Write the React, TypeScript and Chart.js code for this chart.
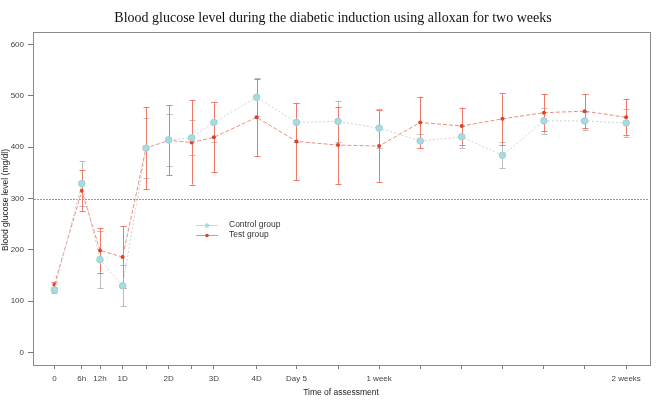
import React, { useEffect, useRef } from "react";
import { Chart, registerables } from "chart.js";

Chart.register(...registerables);

const chartTitle = "Blood glucose level during the diabetic induction using alloxan for two weeks";
const xAxisTitle = "Time of assessment";
const yAxisTitle = "Blood glucose level (mg/dl)";

// time of assessment positions (relative scale as plotted)
const timePos = [0, 0.667, 1.11, 1.66, 2.23, 2.78, 3.34, 3.88, 4.92, 5.89, 6.9, 7.9, 8.9, 9.91, 10.9, 11.91, 12.9, 13.91];
const timeLabels = ["0", "6h", "12h", "1D", "", "2D", "", "3D", "4D", "Day 5", "", "1 week", "", "", "", "", "", "2 weeks"];

const controlMean = [122, 329, 181, 130, 398, 414, 418, 448, 497, 448, 450, 437, 412, 420, 384, 451, 451, 447];
const controlErr = [5, 44, 56, 40, 58, 50, 34, 39, 37, 38, 40, 38, 13, 22, 25, 25, 18, 28];
const testMean = [132, 315, 199, 186, 398, 413, 409, 419, 458, 411, 404, 402, 448, 441, 455, 467, 470, 458];
const testErr = [6, 40, 43, 60, 80, 68, 82, 68, 75, 75, 75, 70, 50, 36, 50, 36, 33, 35];

const yTicks = [0, 100, 200, 300, 400, 500, 600];
const thresholdValue = 300;

const seriesNames = ["Control group", "Test group"];

const CONTROL_LINE = "#d2d2d2";
const CONTROL_POINT = "#a6dbe0";
const CONTROL_ERR = "#bcbcbc";
const TEST_LINE = "#ef8d7c";
const TEST_POINT = "#e0402a";
const TEST_ERR = "#f07a6a";
const THRESHOLD = "#30e030";

export default function App() {
  const ref = useRef<HTMLCanvasElement | null>(null);

  useEffect(() => {
    const canvas = ref.current;
    if (!canvas) return;

    const decor = {
      id: "decor",
      beforeDatasetsDraw(chart: any) {
        const ctx = chart.ctx;
        const xs = chart.scales.x;
        const ys = chart.scales.y;
        const area = chart.chartArea;
        ctx.save();
        // threshold line
        const ty = Math.round(ys.getPixelForValue(thresholdValue)) + 0.5;
        ctx.strokeStyle = THRESHOLD;
        ctx.lineWidth = 1;
        ctx.setLineDash([2, 1]);
        ctx.beginPath();
        ctx.moveTo(area.left + 1, ty);
        ctx.lineTo(area.right - 1, ty);
        ctx.stroke();
        ctx.setLineDash([]);
        // error bars
        const drawErr = (means: number[], errs: number[], color: string) => {
          ctx.strokeStyle = color;
          ctx.lineWidth = 1;
          means.forEach((m, i) => {
            const px = Math.round(xs.getPixelForValue(timePos[i])) + 0.5;
            const top = ys.getPixelForValue(m + errs[i]);
            const bot = ys.getPixelForValue(m - errs[i]);
            ctx.beginPath();
            ctx.moveTo(px, top);
            ctx.lineTo(px, bot);
            ctx.moveTo(px - 3, Math.round(top) + 0.5);
            ctx.lineTo(px + 3, Math.round(top) + 0.5);
            ctx.moveTo(px - 3, Math.round(bot) + 0.5);
            ctx.lineTo(px + 3, Math.round(bot) + 0.5);
            ctx.stroke();
          });
        };
        drawErr(controlMean, controlErr, CONTROL_ERR);
        drawErr(testMean, testErr, TEST_ERR);
        ctx.restore();
      },
      afterDraw(chart: any) {
        const ctx = chart.ctx;
        const area = chart.chartArea;
        ctx.save();
        // box
        ctx.strokeStyle = "#8a8a8a";
        ctx.lineWidth = 1;
        ctx.strokeRect(Math.round(area.left) + 0.5, Math.round(area.top) + 0.5, Math.round(area.right - area.left), Math.round(area.bottom - area.top));
        // title
        ctx.fillStyle = "#111";
        ctx.font = "14px 'Liberation Serif', 'Times New Roman', serif";
        ctx.textAlign = "center";
        ctx.textBaseline = "middle";
        ctx.fillText(chartTitle, 333, 18);
        // axis titles
        ctx.font = "8.5px 'Liberation Sans', Arial, sans-serif";
        ctx.fillStyle = "#222";
        ctx.fillText(xAxisTitle, 341, 393);
        ctx.save();
        ctx.translate(6, 200);
        ctx.rotate(-Math.PI / 2);
        ctx.fillText(yAxisTitle, 0, 0);
        ctx.restore();
        // legend
        const lx = 196;
        const items = [
          { name: seriesNames[0], line: CONTROL_LINE, pt: CONTROL_POINT, r: 2.2, y: 225 },
          { name: seriesNames[1], line: TEST_LINE, pt: TEST_POINT, r: 1.8, y: 235 },
        ];
        ctx.font = "8.5px 'Liberation Sans', Arial, sans-serif";
        items.forEach((it) => {
          ctx.strokeStyle = it.line;
          ctx.lineWidth = 1;
          ctx.beginPath();
          ctx.moveTo(lx, it.y + 0.5);
          ctx.lineTo(lx + 22, it.y + 0.5);
          ctx.stroke();
          ctx.fillStyle = it.pt;
          ctx.beginPath();
          ctx.arc(lx + 11, it.y + 0.5, it.r, 0, Math.PI * 2);
          ctx.fill();
          ctx.fillStyle = "#333";
          ctx.textAlign = "left";
          ctx.fillText(it.name, 229, it.y);
        });
        ctx.restore();
      },
    };

    const chart = new Chart(canvas, {
      type: "line",
      data: {
        datasets: [
          {
            label: seriesNames[0],
            data: timePos.map((x, i) => ({ x, y: controlMean[i] })),
            borderColor: CONTROL_LINE,
            borderWidth: 1,
            borderDash: [2, 2],
            pointRadius: 3.3,
            pointBackgroundColor: CONTROL_POINT,
            pointBorderColor: "#9fcfd4",
            pointBorderWidth: 1,
            tension: 0,
          },
          {
            label: seriesNames[1],
            data: timePos.map((x, i) => ({ x, y: testMean[i] })),
            borderColor: TEST_LINE,
            borderWidth: 1,
            borderDash: [4, 2],
            pointRadius: 2,
            pointBackgroundColor: TEST_POINT,
            pointBorderColor: TEST_POINT,
            pointBorderWidth: 0,
            tension: 0,
          },
        ],
      },
      plugins: [decor],
      options: {
        animation: false,
        responsive: false,
        devicePixelRatio: 1,
        layout: { padding: { top: 32, right: 16, left: 0, bottom: 0 } },
        plugins: {
          legend: { display: false },
          title: { display: false },
          tooltip: { enabled: false },
        },
        scales: {
          x: {
            type: "linear",
            min: -0.52,
            max: 14.49,
            afterFit: (s: any) => {
              s.height = 40;
            },
            afterBuildTicks: (s: any) => {
              s.ticks = timePos.map((v) => ({ value: v }));
            },
            border: { display: false },
            grid: {
              drawOnChartArea: false,
              drawTicks: true,
              tickLength: 4,
              tickColor: "#777",
            },
            ticks: {
              autoSkip: false,
              maxRotation: 0,
              minRotation: 0,
              padding: 5,
              color: "#444",
              font: { size: 8, family: "'Liberation Sans', Arial, sans-serif" },
              callback: (_v: any, i: number) => timeLabels[i],
            },
          },
          y: {
            type: "linear",
            min: -24,
            max: 624,
            afterFit: (s: any) => {
              s.width = 33;
            },
            afterBuildTicks: (s: any) => {
              s.ticks = yTicks.map((v) => ({ value: v }));
            },
            border: { display: false },
            grid: {
              drawOnChartArea: false,
              drawTicks: true,
              tickLength: 5,
              tickColor: "#777",
            },
            ticks: {
              padding: 4,
              color: "#444",
              font: { size: 8, family: "'Liberation Sans', Arial, sans-serif" },
            },
          },
        },
      } as any,
    });

    return () => chart.destroy();
  }, []);

  return (
    <div style={{ position: "absolute", left: 0, top: 0, width: 666, height: 405, background: "#fff" }}>
      <canvas ref={ref} width={666} height={405} />
    </div>
  );
}
